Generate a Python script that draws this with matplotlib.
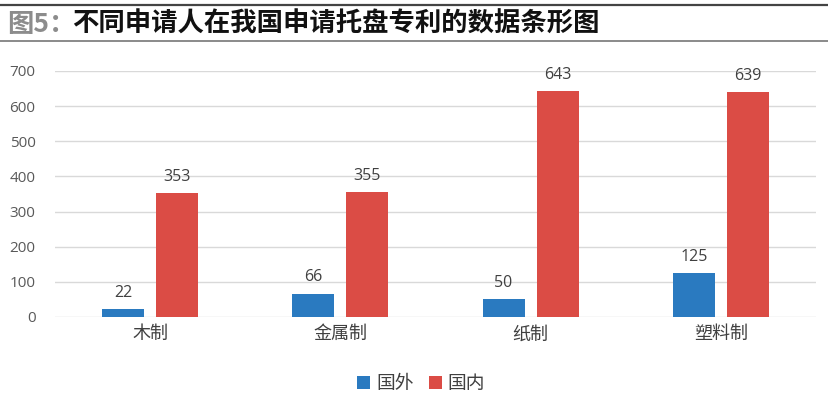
import numpy as np
import matplotlib.pyplot as plt
from matplotlib.lines import Line2D

plt.rcParams['font.family'] = ['Noto Sans CJK SC', 'DejaVu Sans']

categories = ['木制', '金属制', '纸制', '塑料制']
foreign = [22, 66, 50, 125]
domestic = [353, 355, 643, 639]
series_names = ['国外', '国内']
yticks = [0, 100, 200, 300, 400, 500, 600, 700]

blue = '#2A7AC0'
red = '#DB4C45'
tick_gray = '#595959'

fig = plt.figure(figsize=(8.29, 3.93), dpi=100)

# title band with lines above and below
fig.add_artist(Line2D([0.0, 1.0], [1 - 5 / 393, 1 - 5 / 393], color='#444444', lw=1.6))
fig.add_artist(Line2D([0.0, 1.0], [1 - 41 / 393, 1 - 41 / 393], color='#8a8a8a', lw=1.4))
fig.text(7 / 829, 1 - 24 / 393, '图5：', fontsize=19, fontweight='bold',
         color='#8c8c8c', va='center', ha='left')
fig.text(72 / 829, 1 - 24 / 393, '不同申请人在我国申请托盘专利的数据条形图', fontsize=19,
         fontweight='bold', color='#111111', va='center', ha='left')

ax = fig.add_axes([55 / 829, 1 - 317 / 393, 761 / 829, 246 / 393])
x = np.arange(len(categories))
w = 0.22
off = 0.142
b1 = ax.bar(x - off, foreign, w, color=blue, label=series_names[0])
b2 = ax.bar(x + off, domestic, w, color=red, label=series_names[1])

for bars in (b1, b2):
    for rect in bars:
        ax.text(rect.get_x() + rect.get_width() / 2, rect.get_height() + 24,
                f'{int(rect.get_height())}', ha='center', va='bottom',
                fontsize=11.5, color='#404040', family='Open Sans')

ax.set_xlim(-0.5, len(categories) - 0.5)
ax.set_ylim(0, 700)
ax.set_yticks(yticks)
ax.set_yticklabels([str(v) for v in yticks], family='Open Sans')
ax.set_xticks(x)
ax.set_xticklabels(categories, fontsize=13, color='#404040')
ax.tick_params(axis='y', length=0, pad=14, labelsize=11, labelcolor=tick_gray)
ax.tick_params(axis='x', length=0, pad=6)
ax.grid(axis='y', color='#d9d9d9', lw=1)
ax.set_axisbelow(True)
for s in ax.spines.values():
    s.set_visible(False)

ax.legend(loc='upper center', bbox_to_anchor=(0.481, -0.16), ncol=2, frameon=False,
          fontsize=13.5, handlelength=0.7, handleheight=0.7, handletextpad=0.3,
          columnspacing=0.8, labelcolor='#404040')

fig.savefig('out.png', dpi=100)
